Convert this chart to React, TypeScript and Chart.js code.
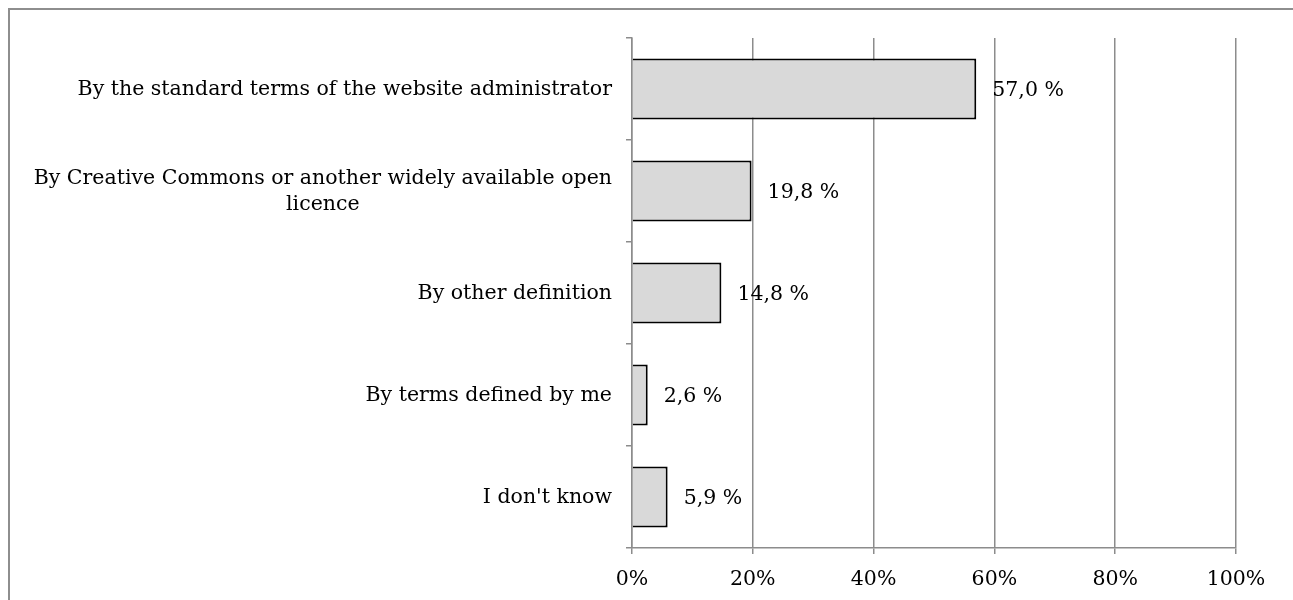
import React, { useEffect, useRef } from 'react';
import { Chart, registerables } from 'chart.js';

Chart.register(...registerables);

const categories: string[][] = [
  ['By the standard terms of the website administrator'],
  ['By Creative Commons or another widely available open', 'licence'],
  ['By other definition'],
  ['By terms defined by me'],
  ["I don't know"],
];
const values: number[] = [57.0, 19.8, 14.8, 2.6, 5.9];
const xMin = 0;
const xMax = 100;
const xStep = 20;

const FONT = "'DejaVu Serif', serif";
const SIZE = 20.5;
const LINE_H = 26;
const GRID = '#8c8c8c';

const fmt = (v: number) => v.toFixed(1).replace('.', ',') + ' %';

const labelPlugin = {
  id: 'customLabels',
  afterDatasetsDraw(chart: any) {
    const ctx = chart.ctx as CanvasRenderingContext2D;
    const yScale = chart.scales.y;
    const meta = chart.getDatasetMeta(0);
    ctx.save();
    ctx.font = `${SIZE}px ${FONT}`;
    ctx.fillStyle = '#000';
    ctx.textBaseline = 'middle';
    const right = chart.chartArea.left - 20;
    categories.forEach((lines, i) => {
      const yc = yScale.getPixelForValue(i);
      const w = Math.max(...lines.map((l) => ctx.measureText(l).width));
      ctx.textAlign = 'center';
      lines.forEach((l, j) => {
        const y = yc + (j - (lines.length - 1) / 2) * LINE_H + 1;
        ctx.fillText(l, right - w / 2, y);
      });
    });
    ctx.textAlign = 'left';
    meta.data.forEach((bar: any, i: number) => {
      ctx.fillText(fmt(values[i]), bar.x + 16, bar.y + 2);
    });
    ctx.restore();
  },
};

export default function App() {
  const ref = useRef<HTMLCanvasElement>(null);
  useEffect(() => {
    document.documentElement.style.overflow = 'hidden';
    document.body.style.margin = '8px 0 0 8px';
    const chart = new Chart(ref.current!, {
      type: 'bar',
      data: {
        labels: categories.map((c) => c.join(' ')),
        datasets: [
          {
            data: values,
            backgroundColor: '#d9d9d9',
            borderColor: '#000',
            borderWidth: 2,
            barPercentage: 0.6,
            categoryPercentage: 1,
          },
        ],
      },
      options: {
        indexAxis: 'y',
        responsive: false,
        animation: false,
        layout: { padding: { top: 28, right: 70, left: 0, bottom: 0 } },
        plugins: { legend: { display: false }, tooltip: { enabled: false } },
        scales: {
          y: {
            type: 'category',
            ticks: { display: false },
            grid: { offset: true, drawOnChartArea: false, color: GRID, lineWidth: 1.5, tickLength: 6 },
            border: { color: GRID, width: 1.5 },
            afterFit: (s: any) => {
              s.width = 622;
            },
          },
          x: {
            type: 'linear',
            min: xMin,
            max: xMax,
            ticks: {
              stepSize: xStep,
              callback: (v: any) => v + '%',
              color: '#000',
              font: { family: FONT, size: SIZE },
              padding: 13,
            },
            grid: { color: GRID, lineWidth: 1.5, tickLength: 6 },
            border: { color: GRID, width: 1.5 },
            afterFit: (s: any) => {
              s.height = 78;
            },
          },
        },
      },
      plugins: [labelPlugin],
    });
    return () => chart.destroy();
  }, []);
  return (
    <div
      style={{
        width: 1300,
        height: 620,
        border: '2px solid #8e8e8e',
        boxSizing: 'border-box',
        overflow: 'hidden',
      }}
    >
      <canvas ref={ref} width={1296} height={616} style={{ display: 'block' }} />
    </div>
  );
}
